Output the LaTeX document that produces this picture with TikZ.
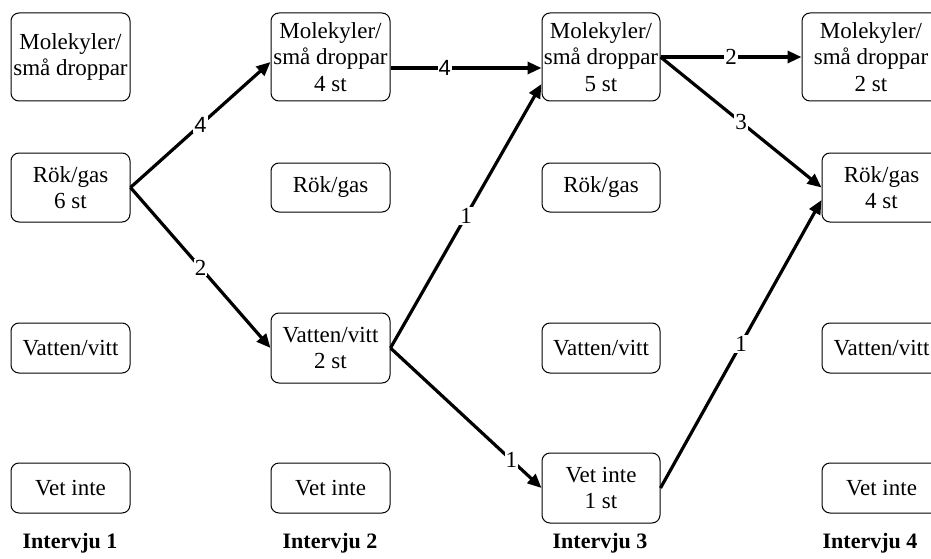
\documentclass[tikz,border=0pt]{standalone}
\usepackage{fontspec}
\setmainfont{Liberation Serif}
\newfontfamily\lblsans{Liberation Sans}
\usetikzlibrary{arrows.meta}
\begin{document}
\begin{tikzpicture}[x=1pt,y=-1pt,
  box/.style={draw=black, line width=1pt, rounded corners=8pt, inner sep=0pt,
    minimum width=119pt, align=center, font=\fontsize{23}{26.5}\selectfont},
  one/.style={minimum height=50pt},
  two/.style={minimum height=69pt},
  three/.style={minimum height=88pt},
  flow/.style={line width=3.2pt, -{Triangle[length=14pt,width=12pt]}},
  lbl/.style={fill=white, inner sep=1pt, font=\fontsize{23}{26.5}\selectfont},
  lblsf/.style={lbl, font=\fontsize{22}{26}\lblsans},
  head/.style={anchor=base, font=\fontsize{22}{26}\selectfont\bfseries}]
\useasboundingbox (0,0) rectangle (931,559);
% column 1
\node[box,three] (m1) at (70.5,57) {Molekyler/\\små droppar};
\node[box,two] (r1) at (70.5,187.5) {Rök/gas\\6 st};
\node[box,one] (v1) at (70.5,348) {Vatten/vitt};
\node[box,one] (vi1) at (70.5,488) {Vet inte};
% column 2
\node[box,three] (m2) at (330.5,57) {Molekyler/\\små droppar\\4 st};
\node[box,minimum height=49pt] (r2) at (330.5,187.5) {Rök/gas};
\node[box,minimum height=70pt] (v2) at (330.5,348) {Vatten/vitt\\2 st};
\node[box,one] (vi2) at (330.5,488) {Vet inte};
% column 3
\node[box,three,minimum width=118pt] (m3) at (601,57) {Molekyler/\\små droppar\\5 st};
\node[box,minimum height=49pt,minimum width=118pt] (r3) at (601,187.5) {Rök/gas};
\node[box,one,minimum width=118pt] (v3) at (601,348) {Vatten/vitt};
\node[box,minimum height=70pt,minimum width=118pt] (vi3) at (601,488) {Vet inte\\1 st};
% column 4
\node[box,three,minimum width=138pt] (m4) at (871,57) {Molekyler/\\små droppar\\2 st};
\node[box,two] (r4) at (881.5,187.5) {Rök/gas\\4 st};
\node[box,one] (v4) at (881.5,348) {Vatten/vitt};
\node[box,one] (vi4) at (881.5,488) {Vet inte};
% headings
\node[head] (h1) at (70,548) {Intervju 1};
\node[head] (h2) at (330,548) {Intervju 2};
\node[head] (h3) at (600,548) {Intervju 3};
\node[head] (h4) at (870,548) {Intervju 4};
% connectors
\draw[flow] (r1.east) -- node[lblsf] {4} ([yshift=-5pt]m2.west);
\draw[flow] (r1.east) -- node[lbl] {2} (v2.west);
\draw[flow] ([yshift=-11pt]m2.east) -- node[lblsf,pos=0.36] {4} ([yshift=-11pt]m3.west);
\draw[flow] (m3.east) -- node[lbl] {2} (m4.west);
\draw[flow] (m3.east) -- node[lbl] {3} (r4.west);
\draw[flow] (v2.east) -- node[lbl] {1} ([yshift=-27pt]m3.west);
\draw[flow] (v2.east) -- node[lbl,pos=0.8] {1} (vi3.west);
\draw[flow] (vi3.east) -- node[lbl] {1} ([yshift=-12.5pt]r4.west);
\end{tikzpicture}
\end{document}
